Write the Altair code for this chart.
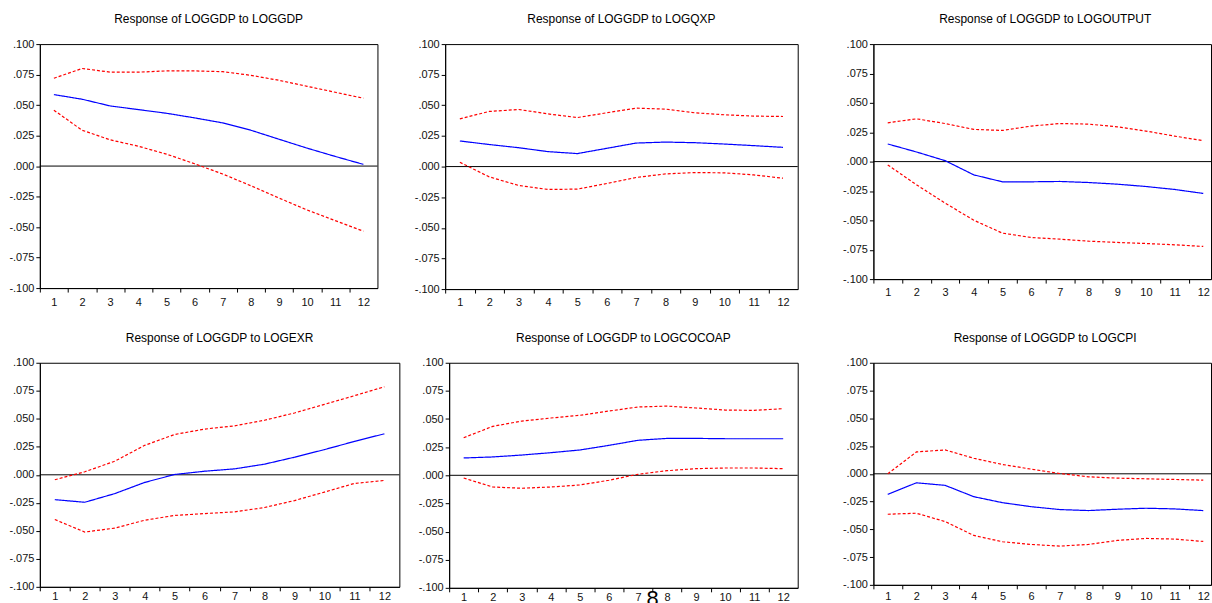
import altair as alt
import pandas as pd

periods = list(range(1, 13))
y_ticks = [-0.1, -0.075, -0.05, -0.025, 0.0, 0.025, 0.05, 0.075, 0.1]

titles = [
    "Response of LOGGDP to LOGGDP",
    "Response of LOGGDP to LOGQXP",
    "Response of LOGGDP to LOGOUTPUT",
    "Response of LOGGDP to LOGEXR",
    "Response of LOGGDP to LOGCOCOAP",
    "Response of LOGGDP to LOGCPI",
]

gdp_resp = [0.0586, 0.0548, 0.0493, 0.0463, 0.0433, 0.0395, 0.0354, 0.0294, 0.0220, 0.0147, 0.0079, 0.0014]
gdp_upper = [0.0720, 0.0800, 0.0770, 0.0770, 0.0780, 0.0780, 0.0774, 0.0744, 0.0703, 0.0654, 0.0605, 0.0556]
gdp_lower = [0.0458, 0.0294, 0.0215, 0.0163, 0.0098, 0.0019, -0.0065, -0.0161, -0.0262, -0.0360, -0.0447, -0.0534]

qxp_resp = [0.0209, 0.0180, 0.0154, 0.0122, 0.0106, 0.0149, 0.0192, 0.0200, 0.0195, 0.0184, 0.0171, 0.0157]
qxp_upper = [0.0390, 0.0450, 0.0466, 0.0430, 0.0400, 0.0439, 0.0477, 0.0469, 0.0439, 0.0423, 0.0412, 0.0409]
qxp_lower = [0.0035, -0.0084, -0.0154, -0.0187, -0.0184, -0.0138, -0.0089, -0.0060, -0.0049, -0.0051, -0.0068, -0.0095]

out_resp = [0.0150, 0.0082, 0.0008, -0.0113, -0.0172, -0.0172, -0.0169, -0.0178, -0.0192, -0.0212, -0.0237, -0.0271]
out_upper = [0.0330, 0.0364, 0.0324, 0.0274, 0.0265, 0.0302, 0.0324, 0.0319, 0.0296, 0.0260, 0.0217, 0.0178]
out_lower = [-0.0028, -0.0197, -0.0353, -0.0499, -0.0609, -0.0646, -0.0660, -0.0677, -0.0688, -0.0697, -0.0708, -0.0722]

exr_resp = [-0.0222, -0.0245, -0.0168, -0.0068, 0.0003, 0.0032, 0.0053, 0.0095, 0.0157, 0.0225, 0.0298, 0.0366]
exr_upper = [-0.0044, 0.0027, 0.0121, 0.0263, 0.0360, 0.0408, 0.0437, 0.0487, 0.0552, 0.0629, 0.0706, 0.0786]
exr_lower = [-0.0399, -0.0511, -0.0476, -0.0405, -0.0363, -0.0346, -0.0331, -0.0292, -0.0230, -0.0154, -0.0077, -0.0050]

cocoa_resp = [0.0154, 0.0163, 0.0180, 0.0201, 0.0225, 0.0266, 0.0311, 0.0328, 0.0328, 0.0325, 0.0325, 0.0325]
cocoa_upper = [0.0334, 0.0435, 0.0482, 0.0509, 0.0533, 0.0571, 0.0607, 0.0615, 0.0598, 0.0580, 0.0577, 0.0592]
cocoa_lower = [-0.0024, -0.0104, -0.0115, -0.0104, -0.0086, -0.0044, 0.0009, 0.0041, 0.0059, 0.0065, 0.0065, 0.0059]

cpi_resp = [-0.0185, -0.0081, -0.0104, -0.0206, -0.0260, -0.0296, -0.0322, -0.0331, -0.0319, -0.0310, -0.0316, -0.0331]
cpi_upper = [0.0000, 0.0197, 0.0215, 0.0140, 0.0084, 0.0042, 0.0003, -0.0027, -0.0039, -0.0045, -0.0051, -0.0057]
cpi_lower = [-0.0364, -0.0355, -0.0430, -0.0555, -0.0612, -0.0636, -0.0651, -0.0636, -0.0600, -0.0582, -0.0588, -0.0609]

page_number = "8"

FONT = "Liberation Sans"
series_order = ["Upper", "Lower", "Response"]


def panel(title, resp, upper, lower, width, height, xmax, label_pad, dx=0, page=None):
    rows = []
    for name, vals in (("Upper", upper), ("Lower", lower), ("Response", resp)):
        for p, v in zip(periods, vals):
            rows.append({"period": p, "value": v, "series": name})
    df = pd.DataFrame(rows)

    band_px = width / (xmax - 0.5)
    # one extra tick position closes the last band when the whole band is visible
    tick_values = periods + ([periods[-1] + 1] if xmax >= periods[-1] + 0.5 else [])
    x_scale = alt.Scale(domain=[0.5, xmax], nice=False, zero=False)
    x_axis = alt.Axis(
        values=tick_values,
        title=None,
        grid=False,
        tickSize=4,
        tickOffset=-band_px / 2,
        labelOffset=band_px / 2,
        labelPadding=label_pad,
        format="d",
        labelFlush=False,
        labelOverlap=False,
        labelExpr="datum.value > 12.5 ? '' : datum.label",
    )
    y_scale = alt.Scale(domain=[-0.1, 0.1], nice=False, zero=False)
    y_axis = alt.Axis(
        values=y_ticks,
        title=None,
        grid=False,
        tickSize=4,
        labelPadding=2,
        labelOverlap=False,
        labelFlush=False,
        labelExpr="(datum.value < -0.0001 ? '-' : '') + replace(format(abs(datum.value), '.3f'), '0.', '.')",
    )

    lines = alt.Chart(df).mark_line(strokeWidth=1.2).encode(
        x=alt.X("period:Q", scale=x_scale, axis=x_axis),
        y=alt.Y("value:Q", scale=y_scale, axis=y_axis),
        color=alt.Color("series:N", scale=alt.Scale(domain=series_order, range=["#FF0000", "#FF0000", "#0000FF"]), legend=None),
        strokeDash=alt.StrokeDash("series:N", scale=alt.Scale(domain=series_order, range=[[3, 2], [3, 2], [1, 0]]), legend=None),
        order=alt.Order("period:Q"),
    )
    zero_df = pd.DataFrame({"value": [0.0]})
    zero = alt.Chart(zero_df).mark_rule(color="black", strokeWidth=1).encode(
        y=alt.Y("value:Q", scale=y_scale, axis=y_axis)
    )
    layers = [zero, lines]
    if page is not None:
        page_df = pd.DataFrame({"period": [7.5], "value": [-0.1], "label": [page]})
        txt = alt.Chart(page_df).mark_text(fontSize=22, font=FONT, color="black", baseline="top", dy=1).encode(
            x=alt.X("period:Q", scale=x_scale, axis=x_axis),
            y=alt.Y("value:Q", scale=y_scale, axis=y_axis),
            text="label:N",
        )
        layers.append(txt)
    return alt.layer(*layers).properties(
        width=width,
        height=height,
        title=alt.TitleParams(
            text=title, fontSize=12, font=FONT, fontWeight="normal", color="black",
            offset=12, frame="group", anchor="middle", dx=dx,
        ),
    )


W = 31
p1 = panel(titles[0], gdp_resp, gdp_upper, gdp_lower, 339, 245, 12.5, 4)
p2 = panel(titles[1], qxp_resp, qxp_upper, qxp_lower, 354, 246, 12.5, 4)
p3 = panel(titles[2], out_resp, out_upper, out_lower, 339, 236, 12.27, 3, dx=3)
p4 = panel(titles[3], exr_resp, exr_upper, exr_lower, 361, 225, 12.5, 0)
p5 = panel(titles[4], cocoa_resp, cocoa_upper, cocoa_lower, 350, 226, 12.5, 0, page=page_number)
p6 = panel(titles[5], cpi_resp, cpi_upper, cpi_lower, 339, 223, 12.27, 2, dx=3)

row1 = alt.hconcat(p1, alt.hconcat(p2, p3, spacing=74 - W), spacing=66 - W)
row2 = alt.hconcat(p4, alt.hconcat(p5, p6, spacing=74 - W), spacing=48 - W)

chart = (
    alt.vconcat(row1, row2, spacing=22)
    .properties(padding={"left": 39 - W, "top": 11, "right": 0, "bottom": 0}, background="white")
    .configure_view(stroke="black", strokeWidth=1, fill="white")
    .configure_axis(
        domainColor="black", tickColor="black", labelColor="#111111",
        labelFont=FONT, labelFontSize=11, domainWidth=1, tickWidth=1,
    )
)

chart.save("out.html", embed_options={"renderer": "svg", "actions": False})
